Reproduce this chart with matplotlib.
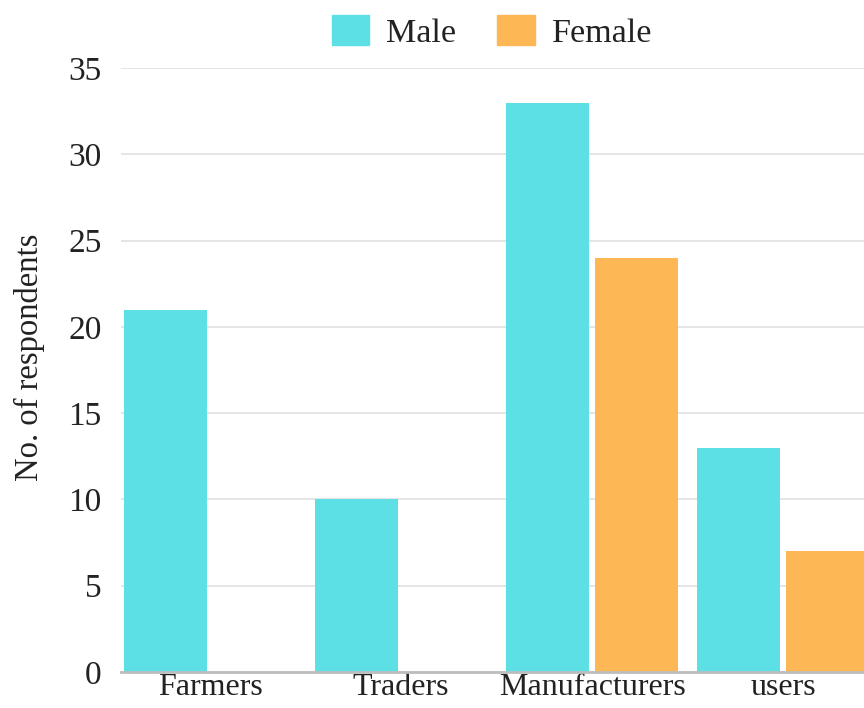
import numpy as np
import matplotlib.pyplot as plt
from matplotlib.patches import Patch

# respondents by category and gender
categories = ["Farmers", "Traders", "Manufacturers", "users"]
male = [21, 10, 33, 13]
female = [0, 0, 24, 7]

plt.rcParams["font.family"] = ["Liberation Serif", "DejaVu Serif"]

male_color = "#5ce0e6"
female_color = "#fdb755"

fig = plt.figure(figsize=(8.64, 7.08), dpi=100)
ax = fig.add_axes([121 / 864, 36 / 708, 743 / 864, 604 / 708])

x = np.arange(len(categories))
w = 0.435
off = 0.233
ax.bar(x - off, male, width=w, color=male_color, zorder=3)
ax.bar(x + off, female, width=w, color=female_color, zorder=3)

ax.set_xlim(-0.466, 3.424)
ax.set_ylim(0, 35)
ax.set_yticks(range(0, 36, 5))
ax.set_xticks(x)
ax.set_xticklabels(categories)

ax.grid(axis="y", color="#e3e3e3", linewidth=1.3, zorder=0)
for s in ["top", "right", "left"]:
    ax.spines[s].set_visible(False)
ax.spines["bottom"].set_color("#bdbdbd")
ax.spines["bottom"].set_linewidth(2)
ax.spines["bottom"].set_zorder(4)

ax.tick_params(axis="y", length=0, pad=14, labelsize=24, labelcolor="#222222")
ax.tick_params(axis="x", length=0, pad=0.5, labelsize=23, labelcolor="#222222")
fig.text(29 / 864, 1 - 357 / 708, "No. of respondents", rotation=90, ha="center",
         va="center", fontsize=23.5, color="#222222")

handles = [Patch(color=male_color, label="Male"), Patch(color=female_color, label="Female")]
fig.legend(handles=handles, loc="center", bbox_to_anchor=(492 / 864, 1 - 32 / 708),
           ncol=2, frameon=False, fontsize=24.5, handlelength=1.1, handleheight=0.95,
           columnspacing=1.2, handletextpad=0.5, labelcolor="#222222")

fig.savefig("out.png", dpi=100)
